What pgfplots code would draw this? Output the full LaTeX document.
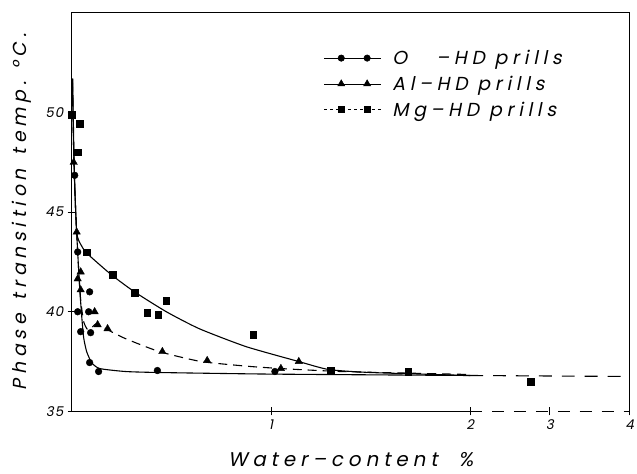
\documentclass[border=0pt]{standalone}
\usepackage{pgfplots}
\pgfplotsset{compat=1.18}
\usepackage{fontspec}
\setmainfont{Poppins}[FakeSlant=0.2, LetterSpace=8]
\newfontfamily\wide{Poppins}[FakeSlant=0.2, LetterSpace=25]
\begin{document}
\begin{tikzpicture}
\begin{axis}[
  scale only axis, width=560bp, height=400bp,
  xmin=0, xmax=4, ymin=35, ymax=55,
  x coord trafo/.code={\pgfmathparse{ifthenelse(#1<=2,#1,2+0.4*(#1-2))}},
  x coord inv trafo/.code={\pgfmathparse{ifthenelse(#1<=2,#1,2+2.5*(#1-2))}},
  xtick={1,2,3,4}, xticklabels={1,2,3,4},
  ytick={35,40,45,50}, yticklabels={35,40,45,50},
  xtick pos=bottom, ytick pos=left,
  tick align=center, major tick length=8bp,
  tick style={black, line width=0.7bp},
  axis line style={draw=none},
  /pgf/number format/assume math mode=true,
  ticklabel style={font=\fontsize{13.5}{15}\selectfont},
  xticklabel style={yshift=-1bp},
  yticklabel style={xshift=-1bp},
  clip=false,
  legend style={draw=none, fill=none, at={(rel axis cs:0.452,0.912)}, anchor=north west,
    font=\wide\fontsize{19}{22}\selectfont, row sep=6bp, inner sep=0pt},
  legend cell align=left,
  legend image code/.code={\draw[mark repeat=2,mark phase=2,#1] plot coordinates {(0bp,0bp)(17bp,0bp)(30bp,0bp)(43bp,0bp)(57bp,0bp)};},
]
% bounding box
\path (rel axis cs:0,0) ++(-72bp,-62bp) rectangle ([shift={(5bp,13bp)}]rel axis cs:1,1);
% frame
\draw[line width=1bp] (rel axis cs:0,0) -- (rel axis cs:0,1) -- (rel axis cs:1,1) -- (rel axis cs:1,0);
\draw[line width=1bp] (rel axis cs:0,0) -- (rel axis cs:0.7143,0);
\draw[line width=1bp, dash pattern=on 12bp off 10bp] (rel axis cs:0.7143,0) -- (rel axis cs:1,0);
% labels
\node[rotate=90, font=\wide\fontsize{19}{22}\selectfont] at ([xshift=-50bp]rel axis cs:0,0.5) {Phase\hspace{14bp}transition\hspace{14bp}temp.\hspace{12bp}°C.};
\node[font=\wide\fontsize{20}{24}\selectfont] at ([yshift=-48bp]rel axis cs:0.5,0) {Water\textendash content\ \ \%};

% legend
\addlegendimage{black, line width=0.6bp, mark=*, mark size=3.2bp, mark options={solid}}
\addlegendentry{\hspace*{9bp}O\ \ \ \textendash HD prills}
\addlegendimage{black, line width=0.6bp, mark=triangle*, mark size=4bp, mark options={solid}}
\addlegendentry{\hspace*{9bp}Al\textendash HD prills}
\addlegendimage{black, line width=0.6bp, dashed, mark=square*, mark size=3bp, mark options={solid}}
\addlegendentry{\hspace*{9bp}Mg\textendash HD prills}

% curves
\addplot[black, line width=1.1bp, smooth, tension=0.35, forget plot] coordinates {
(0.003,51.7)(0.01,48)(0.02,45)(0.03,43)(0.04,41.2)(0.05,39.8)(0.06,38.7)(0.075,38.0)
(0.1,37.45)(0.14,37.15)(0.27,37.0)(0.44,36.95)(1.0,36.87)(2.0,36.8)};
\addplot[black, line width=1.1bp, smooth, tension=0.35, forget plot] coordinates {
(0.005,51.7)(0.012,47.5)(0.025,44.0)(0.05,43.3)(0.08,42.9)(0.2,41.85)(0.315,41.0)
(0.475,40.0)(0.64,39.15)(0.875,38.25)(1.14,37.5)(1.29,37.1)(1.5,36.95)(2.0,36.8)};
\addplot[black, line width=1.1bp, smooth, tension=0.35, dash pattern=on 9bp off 6bp, forget plot] coordinates {
(0.004,51.5)(0.012,47)(0.025,44)(0.035,42.1)(0.045,40.6)(0.06,39.5)(0.08,39.1)(0.1,39.2)
(0.125,39.4)(0.17,39.15)(0.27,38.65)(0.44,38.0)(0.65,37.5)(0.9,37.25)(1.1,37.12)
(1.35,37.0)(1.64,36.93)(2.0,36.85)};
\addplot[black, line width=1.1bp, dash pattern=on 13bp off 10bp, forget plot] coordinates {(2.0,36.8)(4.0,36.75)};

% data points
\addplot[only marks, mark=*, mark size=3.4bp, black, forget plot] coordinates {
(0.015,46.85)(0.03,43.0)(0.09,41.0)(0.03,40.0)(0.085,40.0)(0.045,39.0)(0.095,38.95)
(0.09,37.45)(0.135,37.0)(0.43,37.05)(1.02,37.0)};
\addplot[only marks, mark=triangle*, mark size=4.3bp, black, forget plot] coordinates {
(0.01,47.5)(0.025,44.0)(0.045,42.0)(0.03,41.65)(0.045,41.1)(0.115,40.0)(0.13,39.35)
(0.18,39.15)(0.455,38.0)(0.68,37.55)(1.05,37.15)(1.14,37.5)};
\addplot[only marks, mark=square*, mark size=3.3bp, black, forget plot] coordinates {
(0.0,49.9)(0.04,49.45)(0.03,48.0)(0.075,43.0)(0.205,41.85)(0.315,40.95)(0.475,40.55)
(0.38,39.95)(0.435,39.85)(0.91,38.85)(1.3,37.05)(1.69,37.0)(2.76,36.5)};
\end{axis}
\end{tikzpicture}
\end{document}
